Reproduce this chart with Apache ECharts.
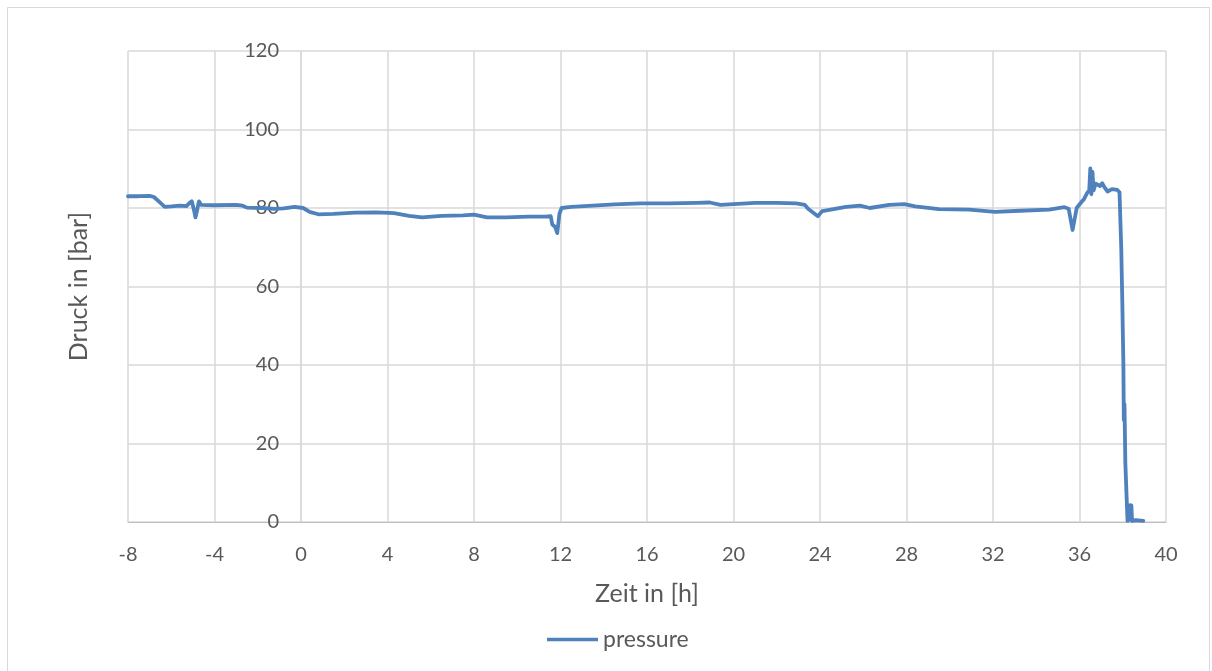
<!DOCTYPE html>
<html>
<head>
<meta charset="utf-8">
<script src="https://cdn.jsdelivr.net/npm/echarts@6/dist/echarts.min.js"></script>
<style>
  html, body { margin: 0; padding: 0; background: #ffffff; }
  #chart { width: 1212px; height: 671px; }
</style>
</head>
<body>
<div id="chart"></div>
<script>
// Pressure log: time in hours and pressure in bar
const timeH = [
  -8.0, -7.5, -7.0, -6.8, -6.5, -6.3, -6.0, -5.6, -5.3, -5.15, -5.05, -4.95, -4.88, -4.8, -4.72, -4.62,
  -4.0, -3.0, -2.7, -2.5, -1.8, -1.2, -0.8, -0.3, 0.1, 0.4, 0.8, 1.5, 2.5, 3.5, 4.3, 5.0, 5.6, 6.5,
  7.5, 8.0, 8.6, 9.5, 10.5, 11.3, 11.55, 11.62, 11.75, 11.85, 11.95, 12.05, 12.5, 13.5, 14.5, 15.7,
  17.0, 18.3, 18.9, 19.4, 20.0, 21.0, 22.0, 22.9, 23.3, 23.45, 23.9, 24.1, 24.5, 25.2, 25.85, 26.3,
  27.2, 27.9, 28.4, 29.5, 30.9, 32.1, 33.25, 34.6, 35.3, 35.5, 35.68, 35.87, 36.1, 36.2, 36.35, 36.45,
  36.5, 36.55, 36.6, 36.65, 36.75, 36.95, 37.05, 37.15, 37.3, 37.5, 37.75, 37.85, 37.93, 37.98, 38.02,
  38.03, 38.05, 38.08, 38.12, 38.22, 38.3, 38.34, 38.37, 38.4, 38.43, 38.6, 38.95
];
const pressureBar = [
  83.0, 83.0, 83.1, 82.8, 81.3, 80.3, 80.4, 80.6, 80.5, 81.3, 81.7, 79.5, 77.6, 79.5, 81.7, 80.8,
  80.7, 80.8, 80.6, 80.1, 80.0, 79.8, 79.9, 80.3, 80.0, 79.0, 78.4, 78.5, 78.8, 78.9, 78.7, 78.0, 77.6, 78.0,
  78.1, 78.3, 77.6, 77.6, 77.8, 77.8, 77.9, 75.8, 75.2, 73.6, 78.5, 80.0, 80.3, 80.6, 80.9, 81.2,
  81.2, 81.3, 81.4, 80.8, 81.0, 81.3, 81.3, 81.2, 80.8, 79.8, 77.9, 79.2, 79.6, 80.3, 80.6, 80.0,
  80.8, 81.0, 80.4, 79.7, 79.6, 79.0, 79.3, 79.6, 80.2, 79.8, 74.4, 80.0, 81.6, 82.2, 83.8, 84.5,
  90.1, 83.5, 89.2, 84.5, 86.2, 85.6, 86.3, 85.3, 84.2, 84.8, 84.6, 84.0, 70.0, 56.0, 55.5,
  40.0, 26.0, 30.0, 15.0, 0.3, 0.2, 4.3, 0.5, 4.2, 0.3, 0.5, 0.3
];
const xTicks = { min: -8, max: 40, step: 4 };
const yTicks = { min: 0, max: 120, step: 20 };

const seriesData = timeH.map((t, i) => [t, pressureBar[i]]);

const textColor = '#595959';
const gridColor = '#d9d9d9';
const lineColor = '#4f81bd';
const fontFamily = 'Lato, "Open Sans", sans-serif';

// plot rectangle
const plot = { left: 128, right: 46, top: 51, bottom: 149 };
const plotWidth = 1212 - plot.left - plot.right;
const plotHeight = 671 - plot.top - plot.bottom;
// the value axis is drawn where time = 0
const yAxisShift = (0 - xTicks.min) / (xTicks.max - xTicks.min) * plotWidth;

const chart = echarts.init(document.getElementById('chart'));
chart.setOption({
  animation: false,
  backgroundColor: '#ffffff',
  grid: { left: plot.left, right: plot.right, top: plot.top, bottom: plot.bottom, containLabel: false },
  graphic: [
    {
      type: 'rect',
      shape: { x: 7.5, y: 7.5, width: 1202, height: 670 },
      style: { fill: 'none', stroke: gridColor, lineWidth: 1 },
      silent: true
    },
    {
      type: 'text',
      x: plot.left + plotWidth / 2,
      y: 594,
      style: {
        text: 'Zeit in [h]', fill: textColor, font: '25px ' + fontFamily,
        align: 'center', verticalAlign: 'middle'
      },
      silent: true
    },
    {
      type: 'text',
      x: 79,
      y: plot.top + plotHeight / 2,
      rotation: Math.PI / 2,
      style: {
        text: 'Druck in [bar]', fill: textColor, font: '25px ' + fontFamily,
        align: 'center', verticalAlign: 'middle'
      },
      silent: true
    }
  ],
  legend: {
    top: 623,
    left: 542,
    icon: 'rect',
    itemWidth: 51,
    itemHeight: 3.5,
    itemGap: 6,
    textStyle: { color: textColor, fontSize: 23, fontFamily: fontFamily },
    data: ['pressure']
  },
  xAxis: {
    type: 'value',
    min: xTicks.min,
    max: xTicks.max,
    interval: xTicks.step,
    axisLine: { onZero: false, lineStyle: { color: '#bfbfbf', width: 1 } },
    axisTick: { show: false },
    axisLabel: { color: textColor, fontSize: 20, fontFamily: fontFamily, margin: 23 },
    splitLine: { show: true, lineStyle: { color: gridColor, width: 1.5 } }
  },
  yAxis: {
    type: 'value',
    min: yTicks.min,
    max: yTicks.max,
    interval: yTicks.step,
    offset: -yAxisShift,
    axisLine: { show: true, onZero: false, lineStyle: { color: gridColor, width: 1.5 } },
    axisTick: { show: false },
    axisLabel: { color: textColor, fontSize: 20, fontFamily: fontFamily, margin: 22 },
    splitLine: { show: true, lineStyle: { color: gridColor, width: 1.5 } }
  },
  series: [
    {
      name: 'pressure',
      type: 'line',
      data: seriesData,
      showSymbol: false,
      symbol: 'none',
      lineStyle: { color: lineColor, width: 3.8, cap: 'round', join: 'round' },
      itemStyle: { color: lineColor }
    }
  ]
});
</script>
</body>
</html>
